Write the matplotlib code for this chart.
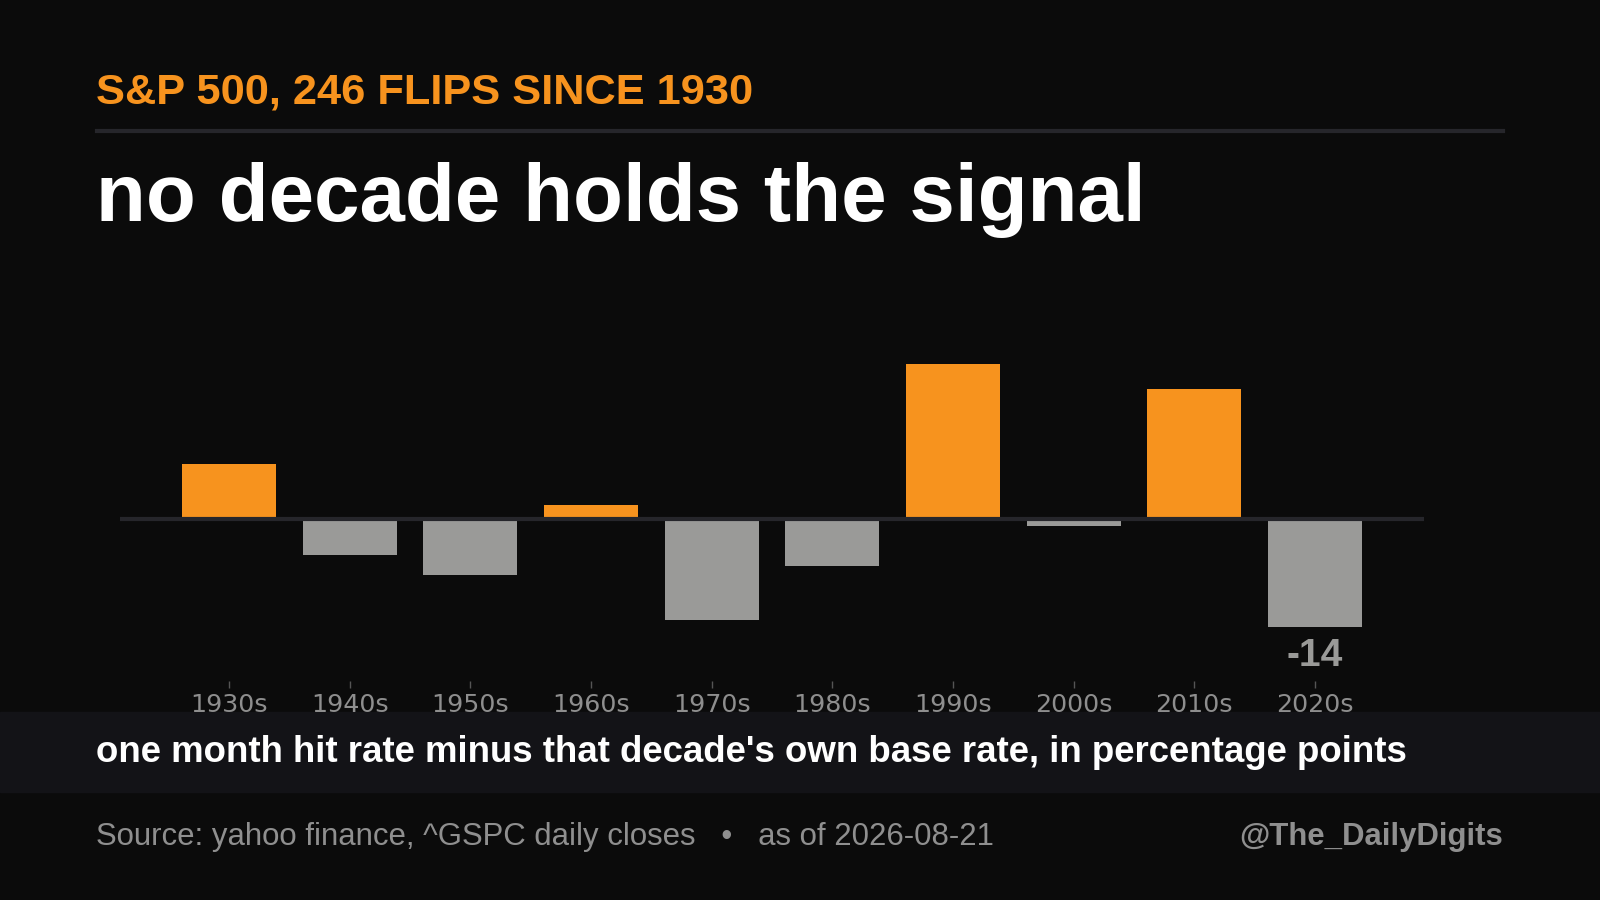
import matplotlib.pyplot as plt
import numpy as np

# decade-by-decade excess hit rate (pp)
decades = ["1930s", "1940s", "1950s", "1960s", "1970s",
           "1980s", "1990s", "2000s", "2010s", "2020s"]
excess = [7.3, -4.7, -7.3, 1.9, -13.1, -6.1, 20.3, -0.9, 17.0, -14.0]

bg = "#0b0b0b"
orange = "#f7931e"
grey = "#9a9a98"

plt.rcParams["font.family"] = ["Liberation Sans", "DejaVu Sans"]

fig = plt.figure(figsize=(16, 9), dpi=100)
fig.patch.set_facecolor(bg)

# header
fig.text(0.06, 0.8855, "S&P 500, 246 FLIPS SINCE 1930", color=orange,
         fontsize=31.2, fontweight="bold", va="baseline")
fig.add_artist(plt.Line2D([0.0605, 0.9395], [0.855, 0.855], color="#26262b",
                          lw=3, transform=fig.transFigure))
fig.text(0.06, 0.755, "no decade holds the signal", color="white",
         fontsize=58.9, fontweight="bold", va="baseline")

# bars
ax = fig.add_axes([0.0753, 0.2438, 0.8144, 0.4162])
ax.set_facecolor(bg)
x = np.arange(len(decades))
colors = [orange if v > 0 else grey for v in excess]
ax.bar(x, excess, width=0.78, color=colors, zorder=2)
ax.axhline(0, color="#26262b", lw=3, zorder=3)
ax.set_xlim(-0.9, len(decades) - 0.1)
ax.set_ylim(-21.07, 27.9)
ax.set_xticks(x)
ax.set_xticklabels(decades, fontfamily="DejaVu Sans", fontsize=18.3, color="#8e8e8e")
ax.tick_params(axis="x", length=5, width=1, color="#555555", pad=4)
ax.set_yticks([])
for s in ax.spines.values():
    s.set_visible(False)

# label the most negative decade
i_min = int(np.argmin(excess))
ax.annotate(f"{excess[i_min]:.0f}", (x[i_min], excess[i_min]),
            xytext=(0, -8.5), textcoords="offset points", ha="center", va="top",
            fontsize=28, fontweight="bold", color=grey)

# explanation band
fig.add_artist(plt.Rectangle((0, 0.1202), 1, 0.0884, color="#131317",
                             transform=fig.transFigure, zorder=0))
fig.text(0.06, 0.1635, "one month hit rate minus that decade's own base rate, in percentage points",
         color="white", fontsize=26.4, fontweight="bold", va="center")

# footer
fig.text(0.06, 0.070, "Source: yahoo finance, ^GSPC daily closes   \u2022   as of 2026-08-21",
         color="#8f8f8f", fontsize=22.45, va="center")
fig.text(0.9395, 0.070, "@The_DailyDigits", color="#8f8f8f", fontsize=22.4,
         fontweight="bold", va="center", ha="right")

fig.savefig("out.png", facecolor=bg)
